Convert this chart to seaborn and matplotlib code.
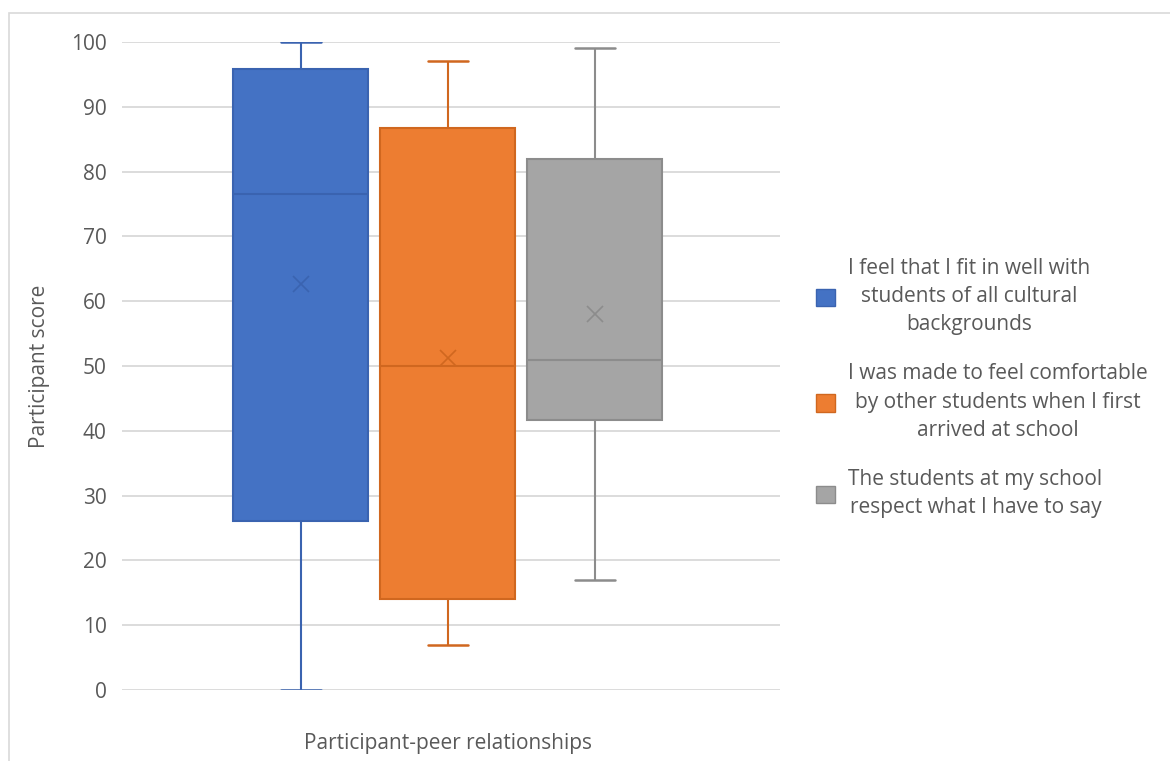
import numpy as np
import pandas as pd
import matplotlib
matplotlib.use("Agg")
import matplotlib.pyplot as plt
from matplotlib.patches import Patch, Rectangle
import seaborn as sns

# Survey responses summarised per statement
category = "Participant-peer relationships"
statements = [
    "I feel that I fit in well with\nstudents of all cultural\nbackgrounds",
    "I was made to feel comfortable\nby other students when I first\narrived at school",
    "The students at my school\nrespect what I have to say",
]
score_min = [0, 7, 17]
score_q1 = [26.1, 14.1, 41.7]
score_median = [76.5, 50.0, 51.0]
score_q3 = [95.8, 86.8, 82.0]
score_max = [100, 97, 99]
score_mean = [62.6, 51.2, 58.0]
y_ticks = [0, 10, 20, 30, 40, 50, 60, 70, 80, 90, 100]

fill_colors = ["#4472C4", "#ED7D31", "#A5A5A5"]
line_colors = ["#3A63B0", "#D0671F", "#8C8C8C"]
text_color = "#595959"
grid_color = "#D9D9D9"

# Five-number summary rows per statement (whiskers span min..max)
rows = []
for i, s in enumerate(statements):
    for v in (score_min[i], score_q1[i], score_median[i], score_q3[i], score_max[i]):
        rows.append({"group": category, "statement": s, "score": v})
df = pd.DataFrame(rows)

sns.set_theme(style="white")
plt.rcParams["font.family"] = ["Open Sans", "DejaVu Sans"]

fig = plt.figure(figsize=(11.7, 7.61), dpi=100)
ax = fig.add_axes([122 / 1170, 1 - 690 / 761, (780 - 122) / 1170, (690 - 42) / 761])

sns.boxplot(
    data=df, x="group", y="score", hue="statement", hue_order=statements,
    palette=fill_colors, width=0.67, gap=0.08, whis=(0, 100),
    showfliers=False, linewidth=1.5, legend=False, ax=ax,
)

cap_half = 20 / 658
for i, cont in enumerate(ax.containers):
    lc = line_colors[i]
    for b in cont.boxes:
        b.set_facecolor(fill_colors[i])
        b.set_edgecolor(lc)
        b.set_linewidth(1.5)
        ext = b.get_path().vertices
        cx = (ext[:, 0].min() + ext[:, 0].max()) / 2
    for ln in list(cont.whiskers) + list(cont.medians):
        ln.set_color(lc)
        ln.set_linewidth(1.5)
    for ln in cont.caps:
        ln.set_color(lc)
        ln.set_linewidth(1.8)
        ln.set_xdata([cx - cap_half, cx + cap_half])
    ax.plot([cx], [score_mean[i]], marker="x", markersize=12,
            markeredgewidth=1.2, color=lc, linestyle="none", zorder=5)

ax.set_xlim(-0.495, 0.505)
ax.set_ylim(0, 100)
ax.set_yticks(y_ticks)
ax.yaxis.grid(True, color=grid_color, linewidth=1.3)
ax.set_axisbelow(True)
for sp in ax.spines.values():
    sp.set_visible(False)
ax.tick_params(axis="y", length=0, pad=11, labelsize=15, labelcolor=text_color)
ax.tick_params(axis="x", length=0, pad=31, labelsize=15, labelcolor=text_color)
ax.set_xlabel("")
ax.set_ylabel("Participant score", fontsize=15, color=text_color, labelpad=15)

handles = [Patch(facecolor=fill_colors[i], edgecolor=line_colors[i], linewidth=1)
           for i in range(len(statements))]
leg = fig.legend(
    handles, statements, loc="center left", bbox_to_anchor=(816 / 1170, 1 - 388 / 761),
    frameon=False, fontsize=15, handlelength=0.9, handleheight=0.9,
    handletextpad=0.65, labelspacing=1.36, borderaxespad=0, borderpad=0,
)
for t in leg.get_texts():
    t.set_color(text_color)
    t.set_multialignment("center")
    t.set_linespacing(1.45)

# Chart area border
fig.patches.append(Rectangle((9 / 1170, -0.05), 1.2, 1 - 13 / 761 + 0.05,
                             transform=fig.transFigure, fill=False,
                             edgecolor=grid_color, linewidth=1.2))

fig.savefig("out.png", dpi=100)
